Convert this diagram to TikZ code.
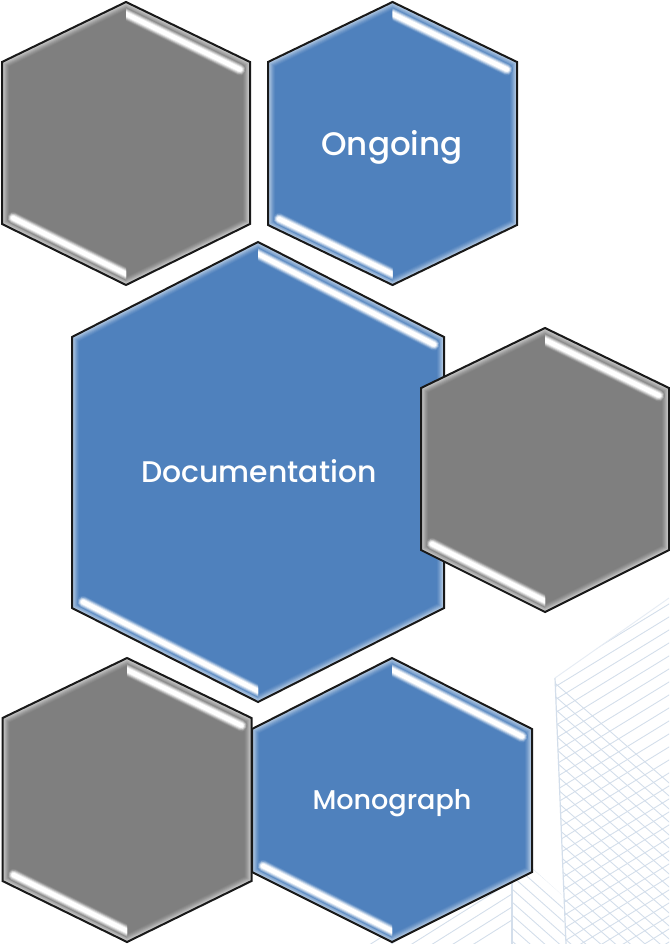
\documentclass[tikz,border=0pt]{standalone}
\usepackage{fontspec}
\setmainfont{Poppins Medium}
\usetikzlibrary{calc}
\definecolor{hexblue}{HTML}{4F81BD}
\definecolor{hexgray}{HTML}{7F7F7F}
\definecolor{hatch}{HTML}{D3DEEB}
\definecolor{hatchb}{HTML}{E6ECF4}
\tikzset{
  hexlabel/.style={text=white,inner sep=0pt,anchor=center},
  hexedge/.style={draw=black!90,line width=1.5pt,line join=miter},
  hatchline/.style={draw=hatch,line width=0.65pt},
}
% name, cx, half width, top, y1, y2, bottom, fill colour
\newcommand{\hexa}[8]{%
  \coordinate (#1-t) at (#2,#4);
  \coordinate (#1-ur) at ({#2+#3},#5);
  \coordinate (#1-lr) at ({#2+#3},#6);
  \coordinate (#1-b) at (#2,#7);
  \coordinate (#1-ll) at ({#2-#3},#6);
  \coordinate (#1-ul) at ({#2-#3},#5);
  \fill[#8] (#1-t)--(#1-ur)--(#1-lr)--(#1-b)--(#1-ll)--(#1-ul)--cycle;
  \begin{scope}
    \clip (#1-t)--(#1-ur)--(#1-lr)--(#1-b)--(#1-ll)--(#1-ul)--cycle;
    \foreach \w/\m in {10.5/95,9/88,7.5/80,6/70,4.5/60,3/50}{
      \draw[#8!\m!white,line width=\w pt,line join=miter] (#1-t)--(#1-ur)--(#1-lr)--(#1-b)--(#1-ll)--(#1-ul)--cycle;
    }
    \begin{scope}
      \clip (#2,0) rectangle (700,1000);
      \foreach \w/\m in {9/90,7.6/68,6.2/42,4.8/18,3.4/0}{
        \ifnum\m=0 \def\cc{white}\else\def\cc{#8!\m!white}\fi
        \draw[\cc,line width=\w pt,line cap=round]
          ($(#2,#4+12)!-12!({#2+#3-9},#5+8)$) -- ({#2+#3-10},{#5+7.5});
      }
    \end{scope}
    \begin{scope}
      \clip (-10,0) rectangle (#2,1000);
      \foreach \w/\m in {9/90,7.6/68,6.2/42,4.8/18,3.4/0}{
        \ifnum\m=0 \def\cc{white}\else\def\cc{#8!\m!white}\fi
        \draw[\cc,line width=\w pt,line cap=round]
          ({#2-#3+11},{#6-6}) -- ($(#2,#7-11)!-12!({#2-#3+11},{#6-6})$);
      }
    \end{scope}
  \end{scope}
  \draw[hexedge] (#1-t)--(#1-ur)--(#1-lr)--(#1-b)--(#1-ll)--(#1-ul)--cycle;
}
\begin{document}
\begin{tikzpicture}[x=0.75pt,y=-0.75pt]
\useasboundingbox (0,0) rectangle (669,944);
\fill[white] (0,0) rectangle (669,944);
% background building, large
\begin{scope}
  \clip (555,678) -- (669,598) -- (669,944) -- (566,944) -- cycle;
  \foreach \k in {0,...,30}{
    \draw[hatchline] (540,{670+\k*13}) -- (700,{670+\k*13-98});
  }
  \foreach \k in {0,...,24}{
    \draw[hatchline] (540,{670+\k*13}) -- (700,{670+\k*13+140});
  }
\end{scope}
\draw[hatch,line width=0.9pt] (555,678) -- (566,944);
\draw[hatchb,line width=0.7pt] (555,678) -- (669,598);
% background building, small
\begin{scope}
  \clip (512,870) -- (365,944) -- (512,944) -- cycle;
  \foreach \k in {0,...,10}{
    \draw[hatchline] (350,{944+\k*13-52}) -- (512,{944+\k*13-52-102});
  }
\end{scope}
\begin{scope}
  \clip (512,850) -- (562,895) -- (566,944) -- (512,944) -- cycle;
  \foreach \k in {0,...,9}{
    \draw[hatchline] (512,{850+\k*13}) -- (600,{850+\k*13+78});
  }
\end{scope}
\draw[hatch,line width=0.8pt] (512,875) -- (512,944);
% hexagons
\hexa{a}{126}{124}{2}{62}{224}{285}{hexgray}
\hexa{b}{392.5}{124.5}{2}{62}{225}{285}{hexblue}
\hexa{c}{258}{186}{242}{337}{608}{702}{hexblue}
\hexa{d}{545}{124}{328}{388}{550}{612}{hexgray}
\hexa{f}{392}{140}{658}{729}{872}{942}{hexblue}
\hexa{e}{127}{124.5}{658}{718}{881}{942}{hexgray}
% labels
\node[hexlabel,font=\fontsize{24.4}{28}\selectfont] (ongoing) at (392,147) {Ongoing};
\node[hexlabel,font=\fontsize{22.4}{28}\selectfont] (documentation) at (259,471.5) {Documentation};
\node[hexlabel,font=\fontsize{20.3}{24}\selectfont] (monograph) at (392,803) {Monograph};
\end{tikzpicture}
\end{document}
